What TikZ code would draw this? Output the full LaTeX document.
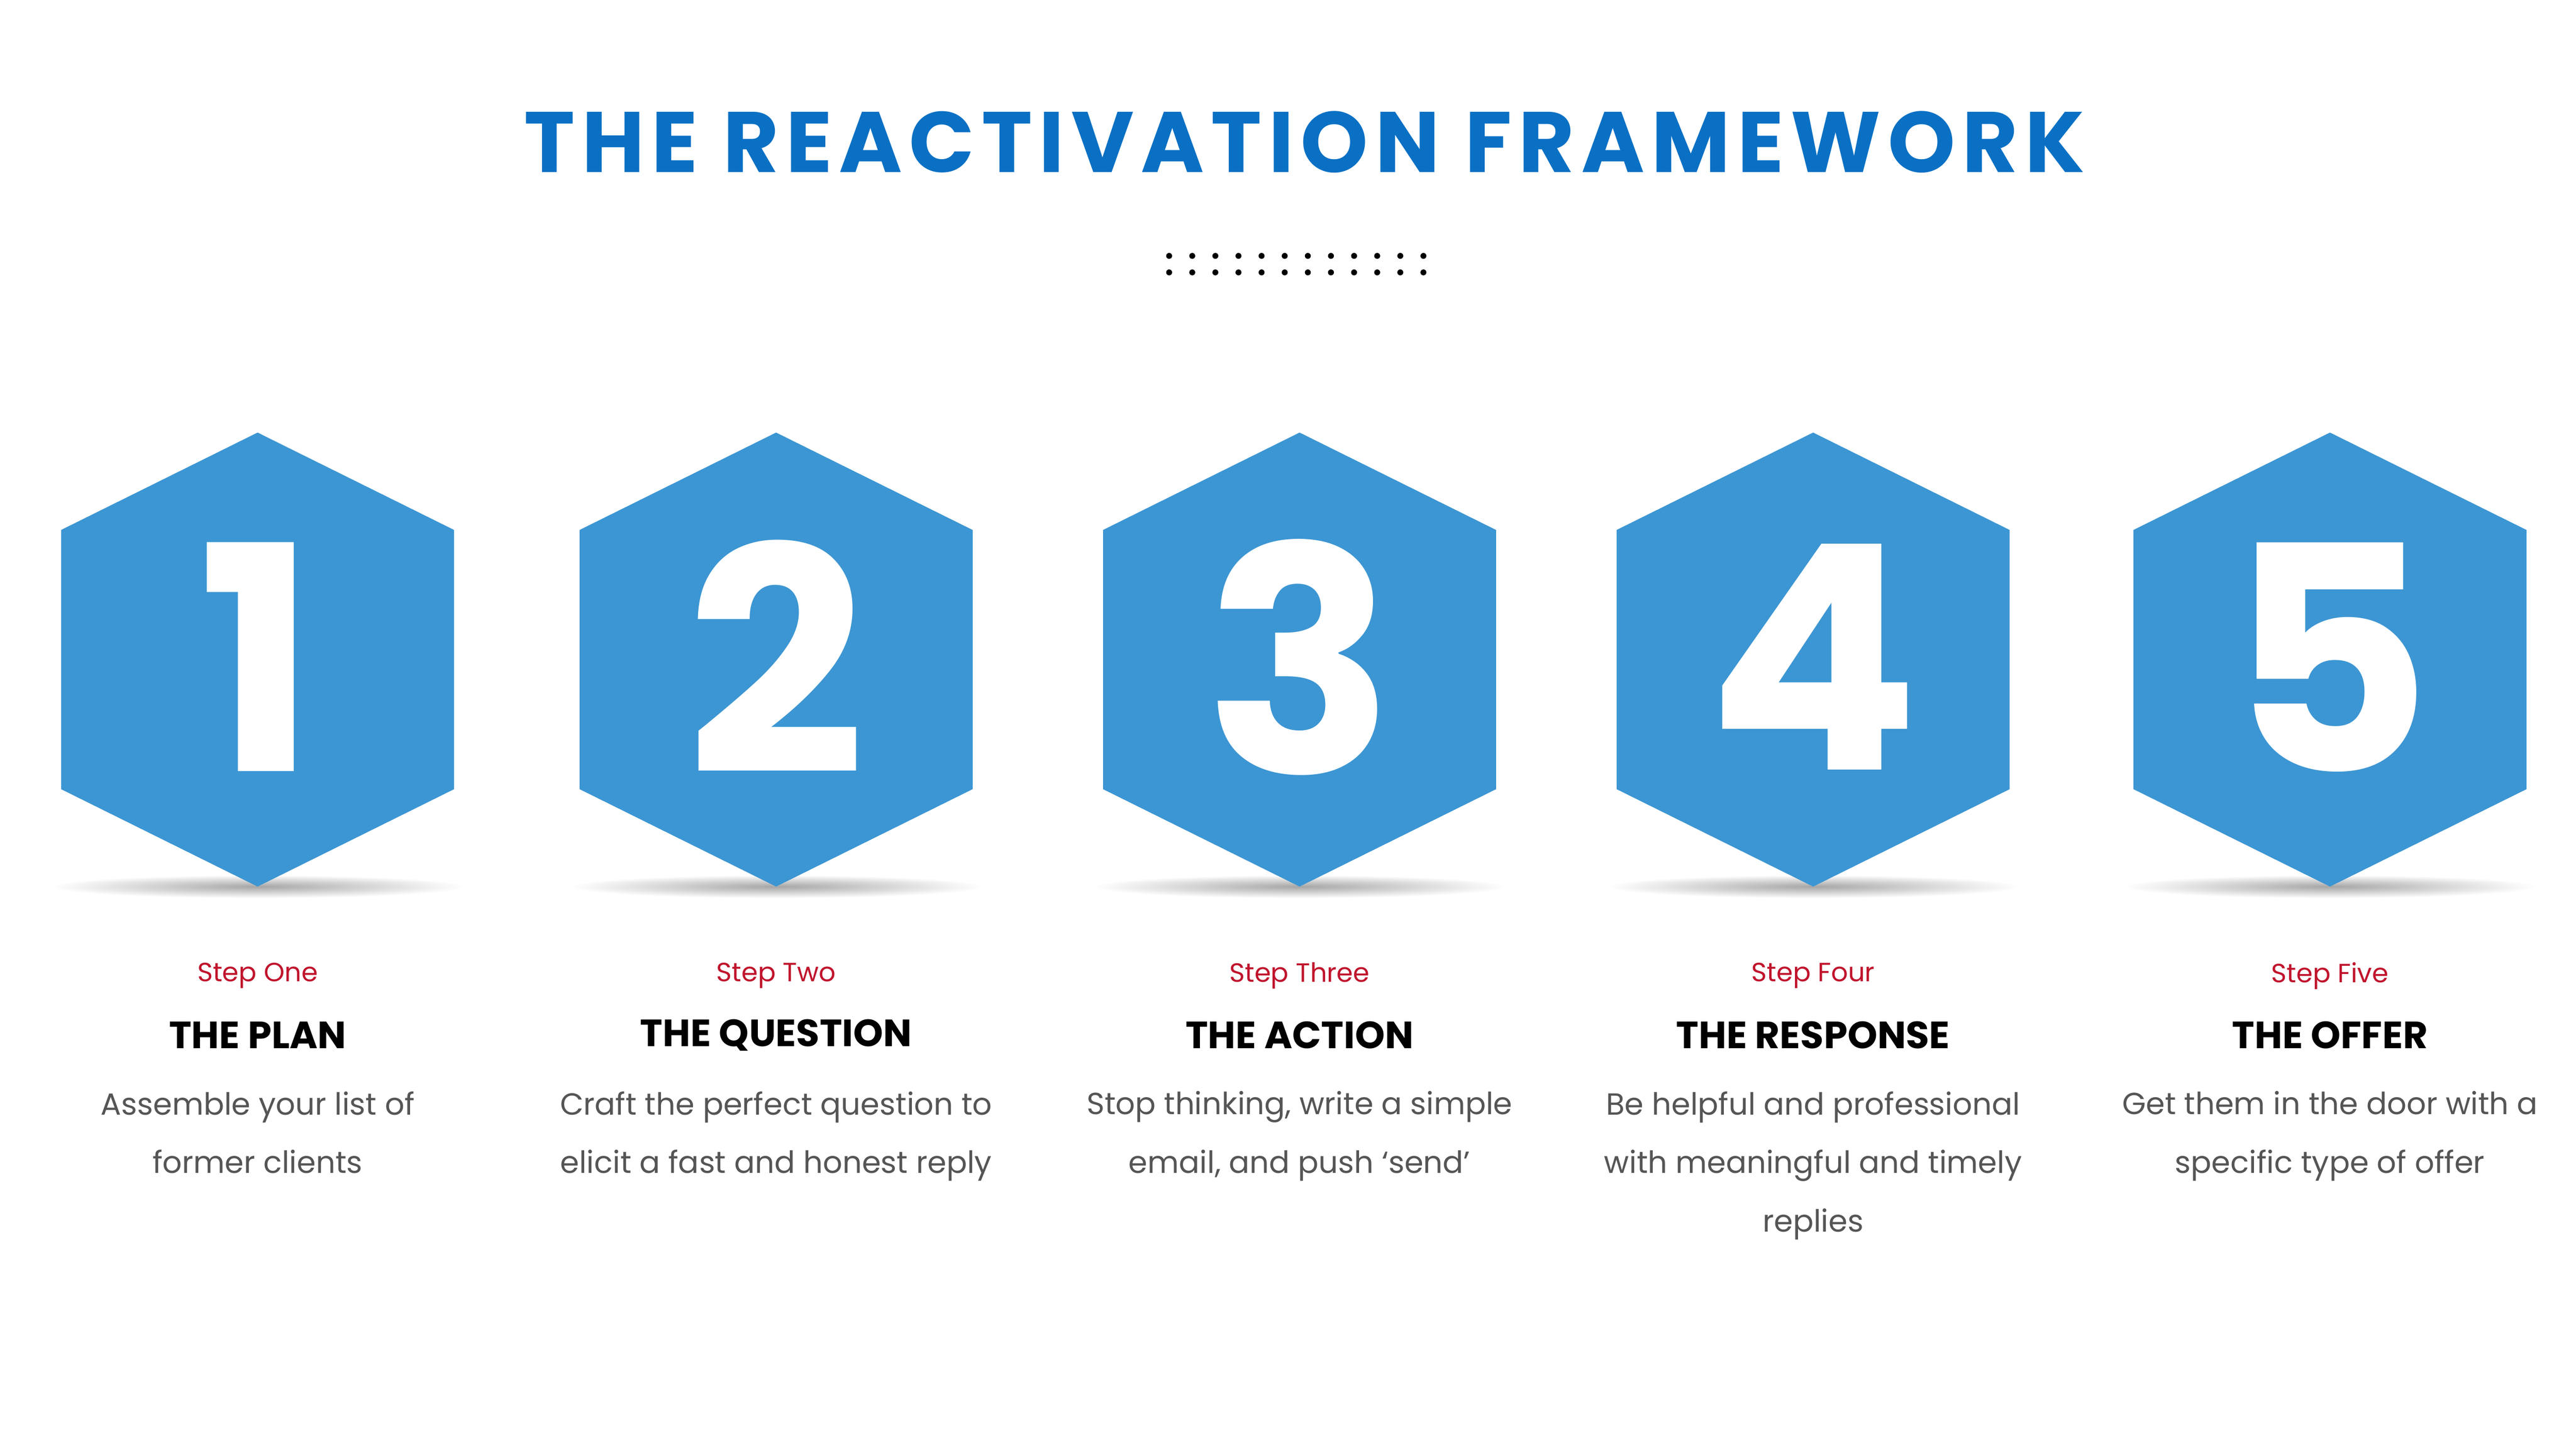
\documentclass[tikz,border=0pt]{standalone}
\usepackage{fontspec}
\setmainfont{Poppins}
\newfontfamily\titlefont[LetterSpace=8]{Poppins Bold}
\newfontfamily\boldf{Poppins Bold}
\definecolor{hexblue}{HTML}{3C96D3}
\definecolor{titleblue}{HTML}{0A70C4}
\definecolor{stepred}{HTML}{C0142C}
\definecolor{desc}{HTML}{555555}
\tikzset{
 hexa/.style={fill=hexblue},
 numtxt/.style={text=white,font=\boldf\fontsize{190mm}{190mm}\selectfont,inner sep=0},
 steplbl/.style={text=stepred,font=\fontsize{16mm}{18mm}\selectfont,inner sep=0},
 headlbl/.style={text=black,font=\boldf\fontsize{23mm}{26mm}\selectfont,inner sep=0},
 desclbl/.style={text=desc,font=\fontsize{18.5mm}{35.5mm}\selectfont,align=center,anchor=north,inner sep=0},
}
\begin{document}
\begin{tikzpicture}[x=1mm,y=-1mm]
\useasboundingbox (0,0) rectangle (1560,878);
\fill[white] (0,0) rectangle (1560,878);
\node[text=titleblue,font=\titlefont\fontsize{52mm}{56mm}\selectfont,inner sep=0] (title) at (790,86) {THE REACTIVATION FRAMEWORK};
\foreach \i in {0,...,11}{
  \fill (708+\i*14,155) circle (1.8);
  \fill (708+\i*14,165) circle (1.8);
}
\foreach \cx/\n/\s/\h/\d in {
 156/1/Step One/THE PLAN/{Assemble your list of\\former clients},
 470/2/Step Two/THE QUESTION/{Craft the perfect question to\\elicit a fast and honest reply},
 787/3/Step Three/THE ACTION/{Stop thinking, write a simple\\email, and push ‘send’},
 1098/4/Step Four/THE RESPONSE/{Be helpful and professional\\with meaningful and timely\\replies},
 1411/5/Step Five/THE OFFER/{Get them in the door with a\\specific type of offer}}{
  \shade[inner color=black!35, outer color=white] (\cx,537) ellipse (125 and 7);
  \fill[hexa] (\cx,262) -- (\cx+119,321) -- (\cx+119,478) -- (\cx,537) -- (\cx-119,478) -- (\cx-119,321) -- cycle;
  \node[numtxt] (num\n) at (\cx,398) {\n};
  \node[steplbl] (step\n) at (\cx,591) {\s};
  \node[headlbl] (head\n) at (\cx,627) {\h};
  \node[desclbl] (desc\n) at (\cx,661) {\d};
}
\end{tikzpicture}
\end{document}
